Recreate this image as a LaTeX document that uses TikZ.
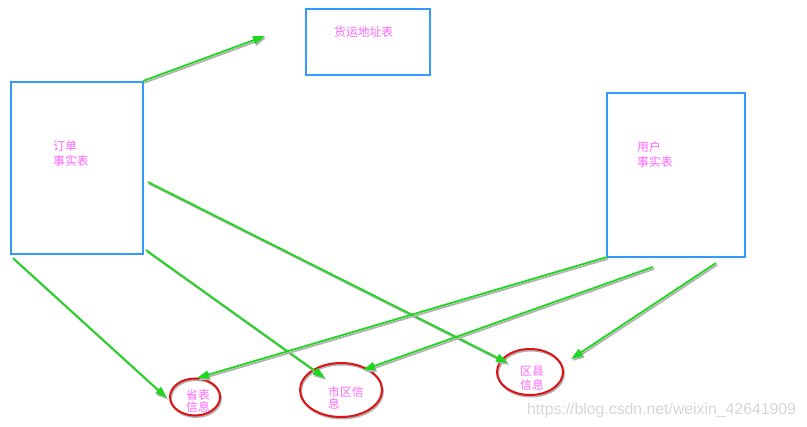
\documentclass[tikz,border=0pt]{standalone}
\usepackage{fontspec}
\newfontfamily\cjk{Noto Sans CJK SC}
\newfontfamily\wmfont{Liberation Sans}
\usetikzlibrary{arrows.meta,shapes.geometric}
\definecolor{boxblue}{RGB}{51,153,255}
\definecolor{lblpink}{RGB}{255,102,255}
\definecolor{arrgreen}{RGB}{30,215,30}
\definecolor{ellred}{RGB}{220,20,20}
\tikzset{
  tablebox/.style={draw=boxblue, line width=1.3pt, rectangle, inner sep=0pt},
  infoell/.style={draw=ellred, line width=2pt, ellipse, inner sep=0pt,
    preaction={draw=black!30, line width=2pt, transform canvas={shift={(1pt,-1.5pt)}}}},
  lbl/.style={text=lblpink, font=\cjk\fontsize{11.8}{15.5}\selectfont, align=left, inner sep=0pt},
  slbl/.style={text=lblpink, font=\cjk\fontsize{11.8}{12.5}\selectfont, align=left, inner sep=0pt},
  link/.style={draw=arrgreen, line width=1.8pt, -{Triangle[length=12pt,width=8pt]},
    preaction={draw=black!30, line width=1.8pt, -{Triangle[length=12pt,width=8pt]},
      transform canvas={shift={(1.2pt,-1.8pt)}}}},
}
\begin{document}
\begin{tikzpicture}[x=1pt,y=-1pt]
\useasboundingbox (0,0) rectangle (807,427);
% tables
\node[tablebox, minimum width=124pt, minimum height=66pt] (addr) at (368,42) {};
\node[tablebox, minimum width=132pt, minimum height=172pt] (order) at (77,168) {};
\node[tablebox, minimum width=138pt, minimum height=164pt] (user) at (676,175) {};
\node[lbl, anchor=west] (addrt) at (334,32) {货运地址表};
\node[lbl, anchor=north west] (ordert) at (53,140) {订单\\事实表};
\node[lbl, anchor=north west] (usert) at (637,141) {用户\\事实表};
% info ellipses
\node[infoell, minimum width=50pt, minimum height=37pt] (prov) at (195,397) {};
\node[infoell, minimum width=82pt, minimum height=54pt] (city) at (341,390) {};
\node[infoell, minimum width=66pt, minimum height=46pt] (county) at (530,372) {};
\node[slbl, anchor=north west] (provt) at (186,389) {省表\\信息};
\node[slbl, anchor=north west] (cityt) at (328,386) {市区信\\息};
\node[slbl, anchor=north west, font=\cjk\fontsize{11.8}{14}\selectfont] (countyt) at (520,366) {区县\\信息};
% connector ends
\coordinate (o1) at (143,81);
\coordinate (free1) at (265,36);
\coordinate (o2) at (148,182);
\coordinate (o3) at (146,250);
\coordinate (o4) at (13,258);
\coordinate (u1) at (607,257);
\coordinate (u2) at (653,267);
\coordinate (u3) at (716,263);
\coordinate (provW) at (167,398);
\coordinate (provN) at (197,378);
\coordinate (cityA) at (325,378);
\coordinate (cityB) at (363,370);
\coordinate (countyA) at (508,363);
\coordinate (countyB) at (571,359);
% connectors
\draw[link] (o1) -- (free1);
\draw[link] (o2) -- (countyA);
\draw[link] (o3) -- (cityA);
\draw[link] (o4) -- (provW);
\draw[link] (u1) -- (provN);
\draw[link] (u2) -- (cityB);
\draw[link] (u3) -- (countyB);
% watermark
\node[text=black!16, font=\wmfont\fontsize{15.8}{16}\selectfont, anchor=west, inner sep=0pt] (wm) at (527,410) {https://blog.csdn.net/weixin\_42641909};
\end{tikzpicture}
\end{document}
